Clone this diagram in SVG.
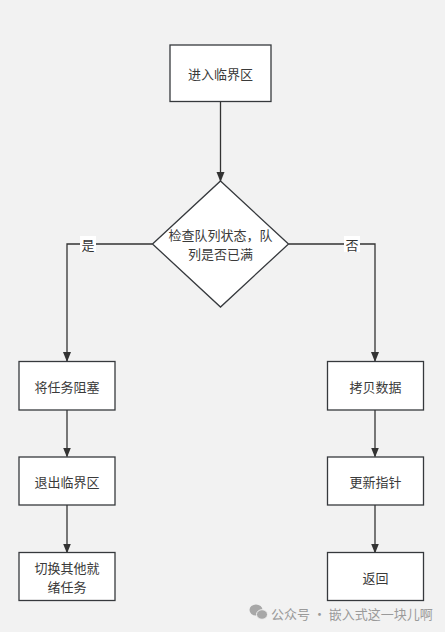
<svg xmlns="http://www.w3.org/2000/svg" width="445" height="632" viewBox="0 0 445 632">
<style>
.box{fill:#ffffff;stroke:#36393d;stroke-width:1.3}
.t{font-family:"Noto Sans CJK SC","Liberation Sans",sans-serif;font-size:13px;fill:#3a3a3a;text-anchor:middle;dominant-baseline:central}
.ln{fill:none;stroke:#333333;stroke-width:1.3}
.lbl{font-family:"Noto Sans CJK SC","Liberation Sans",sans-serif;font-size:13px;fill:#333333;text-anchor:middle;dominant-baseline:central}
.wm{font-family:"Noto Sans CJK SC","Liberation Sans",sans-serif;font-size:13px;fill:#9a9a9a;dominant-baseline:central}
</style>
<defs>
<marker id="ah" markerWidth="10" markerHeight="10" refX="9" refY="4" orient="auto" markerUnits="userSpaceOnUse" viewBox="0 0 10 8">
<path d="M0,0 L10,4 L0,8 Z" fill="#333333"/>
</marker>
</defs>
<rect width="445" height="632" fill="#f2f2f2"/>
<g id="connectors">
<path class="ln" d="M220.5,101.5 V181" marker-end="url(#ah)"/>
<path class="ln" d="M152.5,244 H67 V361" marker-end="url(#ah)"/>
<path class="ln" d="M288.5,244 H375 V361" marker-end="url(#ah)"/>
<path class="ln" d="M67,410 V456.5" marker-end="url(#ah)"/>
<path class="ln" d="M67,505 V552.5" marker-end="url(#ah)"/>
<path class="ln" d="M375,410 V456.5" marker-end="url(#ah)"/>
<path class="ln" d="M375,505 V552.5" marker-end="url(#ah)"/>
<rect x="80" y="236" width="16" height="16" fill="#ffffff"/>
<text class="lbl" x="88" y="244">是</text>
<rect x="344" y="236" width="16" height="16" fill="#ffffff"/>
<text class="lbl" x="352" y="244">否</text>
</g>
<g id="start">
<rect class="box" x="170" y="45" width="101" height="56.5"/>
<text class="t" x="220.5" y="73.5">进入临界区</text>
</g>
<g id="check">
<path class="box" d="M220.5,181 L288.5,244 L220.5,307 L152.5,244 Z"/>
<text class="t" x="220.5" y="234.5">检查队列状态，队</text>
<text class="t" x="220.5" y="253.5">列是否已满</text>
</g>
<g id="block">
<rect class="box" x="19" y="361.5" width="96" height="48.5"/>
<text class="t" x="67" y="386">将任务阻塞</text>
</g>
<g id="exit">
<rect class="box" x="19" y="457" width="96" height="48"/>
<text class="t" x="67" y="481">退出临界区</text>
</g>
<g id="switch">
<rect class="box" x="19" y="552.5" width="96" height="48"/>
<text class="t" x="67" y="567">切换其他就</text>
<text class="t" x="67" y="586">绪任务</text>
</g>
<g id="copy">
<rect class="box" x="327.5" y="361.5" width="96" height="48.5"/>
<text class="t" x="375.5" y="386">拷贝数据</text>
</g>
<g id="update">
<rect class="box" x="327.5" y="457" width="96" height="48"/>
<text class="t" x="375.5" y="481">更新指针</text>
</g>
<g id="return">
<rect class="box" x="327.5" y="552.5" width="96" height="48"/>
<text class="t" x="375.5" y="577">返回</text>
</g>
<g id="watermark">
<ellipse cx="256" cy="610" rx="6.5" ry="5.5" fill="#a8a8a8"/>
<ellipse cx="262" cy="614.5" rx="5.5" ry="4.8" fill="#a8a8a8" stroke="#f2f2f2" stroke-width="1"/>
<text class="wm" x="271" y="613">公众号 · 嵌入式这一块儿啊</text>
</g>
</svg>
